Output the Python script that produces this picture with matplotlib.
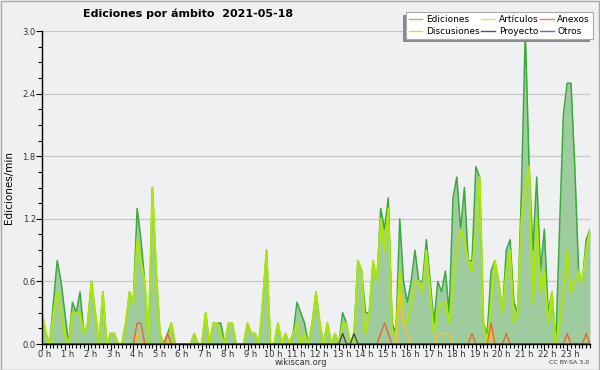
import numpy as np
import matplotlib
matplotlib.use("Agg")
import matplotlib.pyplot as plt
from matplotlib.ticker import FixedLocator, MultipleLocator, FormatStrFormatter
from matplotlib.lines import Line2D
from matplotlib.patches import Rectangle
import matplotlib.transforms as mtransforms

# ediciones/min, un valor cada 10 minutos (0:00 ... 24:00)
ediciones = [
    0.3, 0.1, 0.0, 0.4, 0.8, 0.6, 0.3, 0.0, 0.4, 0.3, 0.5, 0.1,
    0.2, 0.6, 0.3, 0.0, 0.5, 0.0, 0.1, 0.1, 0.0, 0.0, 0.2, 0.5,
    0.4, 1.3, 1.0, 0.6, 0.0, 1.5, 0.7, 0.1, 0.0, 0.1, 0.2, 0.0,
    0.0, 0.0, 0.0, 0.0, 0.1, 0.0, 0.0, 0.3, 0.0, 0.2, 0.2, 0.2,
    0.0, 0.2, 0.2, 0.0, 0.0, 0.0, 0.2, 0.1, 0.1, 0.0, 0.4, 0.9,
    0.0, 0.0, 0.2, 0.0, 0.1, 0.0, 0.1, 0.4, 0.3, 0.2, 0.0, 0.2,
    0.5, 0.2, 0.0, 0.2, 0.0, 0.1, 0.0, 0.3, 0.2, 0.0, 0.1, 0.8,
    0.7, 0.3, 0.3, 0.8, 0.6, 1.3, 1.1, 1.4, 0.2, 0.1, 1.2, 0.6,
    0.4, 0.6, 0.9, 0.6, 0.6, 1.0, 0.6, 0.2, 0.6, 0.5, 0.7, 0.3,
    1.4, 1.6, 1.1, 1.5, 0.8, 0.8, 1.7, 1.6, 0.2, 0.1, 0.7, 0.8,
    0.6, 0.3, 0.9, 1.0, 0.4, 0.3, 1.5, 3.0, 1.7, 0.9, 1.6, 0.7,
    1.1, 0.3, 0.5, 0.0, 1.1, 2.2, 2.5, 2.5, 1.7, 0.7, 0.6, 1.0,
    1.1,
]
articulos = [
    0.3, 0.1, 0.0, 0.3, 0.5, 0.3, 0.1, 0.0, 0.3, 0.3, 0.3, 0.1,
    0.2, 0.6, 0.3, 0.0, 0.5, 0.0, 0.1, 0.1, 0.0, 0.0, 0.2, 0.5,
    0.4, 1.0, 0.8, 0.6, 0.0, 1.5, 0.7, 0.1, 0.0, 0.0, 0.2, 0.0,
    0.0, 0.0, 0.0, 0.0, 0.1, 0.0, 0.0, 0.3, 0.0, 0.2, 0.2, 0.1,
    0.0, 0.2, 0.2, 0.0, 0.0, 0.0, 0.2, 0.1, 0.1, 0.0, 0.4, 0.9,
    0.0, 0.0, 0.2, 0.0, 0.1, 0.0, 0.1, 0.2, 0.0, 0.1, 0.0, 0.2,
    0.5, 0.2, 0.0, 0.2, 0.0, 0.1, 0.0, 0.2, 0.2, 0.0, 0.0, 0.8,
    0.7, 0.1, 0.3, 0.8, 0.6, 1.2, 0.9, 1.3, 0.1, 0.1, 0.7, 0.2,
    0.2, 0.4, 0.6, 0.6, 0.5, 0.9, 0.5, 0.1, 0.3, 0.4, 0.4, 0.2,
    0.6, 0.9, 1.1, 1.0, 0.8, 0.7, 1.1, 1.6, 0.2, 0.0, 0.4, 0.8,
    0.6, 0.3, 0.7, 0.9, 0.2, 0.3, 1.2, 1.5, 1.7, 0.4, 1.2, 0.5,
    0.7, 0.2, 0.5, 0.0, 0.2, 0.5, 0.9, 0.5, 0.6, 0.7, 0.6, 0.9,
    1.1,
]
# series casi vacias: (intervalo, valor)
discusiones = [(25, 0.1), (94, 0.5), (95, 0.2), (96, 0.1), (104, 0.1),
               (105, 0.1), (106, 0.1), (107, 0.1), (118, 0.1)]
anexos = [(25, 0.2), (26, 0.2), (33, 0.1), (89, 0.1), (90, 0.2), (91, 0.1),
          (113, 0.1), (118, 0.2), (122, 0.1), (138, 0.1), (143, 0.1)]
proyecto = [(79, 0.1), (82, 0.1)]
otros = []

hours = list(range(24))
hour_labels = ["%d h" % h for h in hours]

n = len(ediciones)
t = np.arange(n) / 6.0


def dense(pairs):
    v = np.zeros(n)
    for i, val in pairs:
        v[i] = val
    return v


bg = "#eff0f1"
fig = plt.figure(figsize=(6, 3.7), dpi=100, facecolor=bg)
ax = fig.add_axes([42 / 600, 26 / 370, 548 / 600, 313 / 370])
ax.set_facecolor(bg)

ax.fill_between(t, ediciones, color="#9fcc9f", lw=0, zorder=1)
ax.plot(t, ediciones, color="#3aaa3a", lw=1.1, zorder=2.0)
ax.plot(t, articulos, color="#aee800", lw=1.4, zorder=2.1)
ax.plot(t, dense(discusiones), color="#ffc020", lw=1.0, zorder=2.2)
ax.plot(t, dense(anexos), color="#f0642a", lw=1.0, zorder=2.3)
ax.plot(t, dense(proyecto), color="#4a4a4a", lw=1.0, zorder=2.35)
ax.plot(t, dense(otros), color="#9050e0", lw=1.0, zorder=2.05)

ax.set_xlim(0, 24)
ax.set_ylim(0, 3.0)
ax.yaxis.set_major_locator(MultipleLocator(0.6))
ax.yaxis.set_minor_locator(MultipleLocator(0.15))
ax.yaxis.set_major_formatter(FormatStrFormatter("%.1f"))
ax.xaxis.set_major_locator(FixedLocator(hours))
ax.xaxis.set_minor_locator(MultipleLocator(1 / 6))
ax.set_xticklabels(hour_labels)
ax.grid(axis="y", color="#c8c8c8", lw=0.9)
ax.set_axisbelow(True)

for s in ["top", "right"]:
    ax.spines[s].set_visible(False)
for s in ["left", "bottom"]:
    ax.spines[s].set_color("black")
    ax.spines[s].set_linewidth(1.0)

ax.tick_params(axis="both", which="major", length=4, width=0.8, pad=0.5,
               labelsize=6, labelcolor="#333333")
ax.tick_params(axis="both", which="minor", length=3, width=0.8)
shift = mtransforms.ScaledTranslation(3 / 100, 0, fig.dpi_scale_trans)
for lab in ax.get_xticklabels():
    lab.set_transform(lab.get_transform() + shift)

ax.set_ylabel("Ediciones/min", fontsize=7.5, labelpad=6)

fig.text(188 / 600, 1 - 14 / 370, "Ediciones por ámbito  2021-05-18",
         ha="center", va="center", fontsize=8, fontweight="bold")
fig.text(301 / 600, 1 - 362.5 / 370, "wikiscan.org", ha="center",
         va="center", fontsize=6, color="#333333")
fig.text(589 / 600, 1 - 362.5 / 370, "CC BY-SA 3.0", ha="right",
         va="center", fontsize=4.5, color="#333333")

handles = [
    Line2D([], [], color="#80d080", lw=1),
    Line2D([], [], color="#ffc850", lw=1),
    Line2D([], [], color="#c8f060", lw=1),
    Line2D([], [], color="#555555", lw=1),
    Line2D([], [], color="#f08050", lw=1),
    Line2D([], [], color="#9050e0", lw=1),
]
labels = ["Ediciones", "Discusiones", "Artículos", "Proyecto", "Anexos", "Otros"]
leg = fig.legend(handles, labels, ncol=3, loc="upper right",
                 bbox_to_anchor=(593 / 600, 1 - 12 / 370), fontsize=6.5,
                 frameon=True, fancybox=False, framealpha=1,
                 facecolor="white", edgecolor="#aaaaaa", borderpad=0.35,
                 labelspacing=0.3, handlelength=1.5, handletextpad=0.4,
                 columnspacing=0.2, borderaxespad=0)
leg.get_frame().set_linewidth(0.8)
leg.set_zorder(5)

fig.canvas.draw()
bb = leg.get_window_extent().transformed(fig.transFigure.inverted())
dx, dy = 3 / 600, 3 / 370
fig.add_artist(Rectangle((bb.x0 - dx, bb.y0 - dy), bb.width, bb.height,
                         transform=fig.transFigure, facecolor="#8a8a8a",
                         edgecolor="none", zorder=4))

fig.add_artist(Rectangle((0.5 / 600, 0.5 / 370), 598.5 / 600, 368.5 / 370,
                         transform=fig.transFigure, fill=False,
                         edgecolor="#a8a8a8", lw=1, zorder=10))

fig.savefig("out.png", dpi=100, facecolor=bg)
